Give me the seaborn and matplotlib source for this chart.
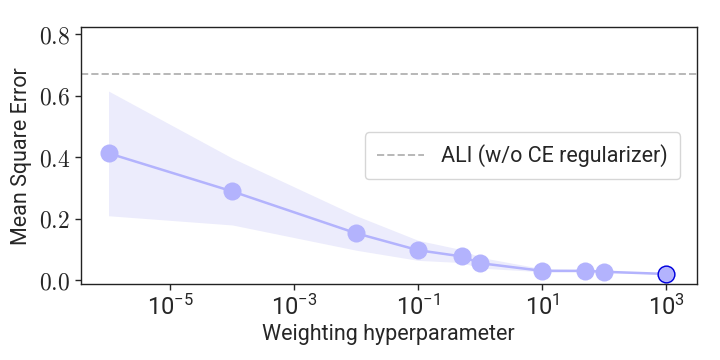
import numpy as np
import pandas as pd
import matplotlib
matplotlib.use("Agg")
import matplotlib.pyplot as plt
import seaborn as sns
from matplotlib.ticker import FuncFormatter, NullLocator

# data
weights = [1e-6, 1e-4, 1e-2, 1e-1, 0.5, 1, 10, 50, 100, 1000]
mse = [0.413, 0.289, 0.153, 0.098, 0.078, 0.056, 0.031, 0.031, 0.028, 0.021]
mse_upper = [0.615, 0.397, 0.21, 0.13, 0.10, 0.075, 0.038, 0.034, 0.030, 0.022]
mse_lower = [0.21, 0.18, 0.098, 0.065, 0.058, 0.04, 0.028, 0.028, 0.026, 0.020]
ali_baseline = 0.67

sns.set_style("ticks")
plt.rcParams["font.family"] = ["Roboto", "DejaVu Sans"]
plt.rcParams["mathtext.fontset"] = "cm"

df = pd.DataFrame({"w": weights, "mse": mse})

fig, ax = plt.subplots(figsize=(7.2, 3.6), dpi=100)
fig.subplots_adjust(left=0.112, right=0.968, top=0.925, bottom=0.21)

pt_color = "#b3b3fd"
ax.fill_between(weights, mse_lower, mse_upper, color="#ececfc", linewidth=0)
sns.lineplot(data=df, x="w", y="mse", ax=ax, color=pt_color, linewidth=1.8,
             marker="o", markersize=13, markeredgewidth=0, markerfacecolor=pt_color)
# highlight last point
ax.plot(weights[-1], mse[-1], "o", markersize=12, markerfacecolor=pt_color,
        markeredgecolor="#0000dd", markeredgewidth=1.0)
ax.axhline(ali_baseline, color="#b8b8b8", linestyle="--", linewidth=1.4,
           label="ALI (w/o CE regularizer)")

ax.set_xscale("log")
ax.set_xlim(10 ** -6.45, 10 ** 3.5)
ax.set_ylim(-0.013, 0.823)
ax.set_xticks([1e-5, 1e-3, 1e-1, 1e1, 1e3])
ax.xaxis.set_minor_locator(NullLocator())
ax.set_yticks([0.0, 0.2, 0.4, 0.6, 0.8])
ax.yaxis.set_major_formatter(FuncFormatter(lambda v, p: r"$%.1f$" % v))
ax.tick_params(labelsize=17, length=4, width=1)

ax.set_xlabel("Weighting hyperparameter", fontsize=15.5, labelpad=3)
ax.set_ylabel("Mean Square Error", fontsize=15.5, labelpad=5)
for s in ax.spines.values():
    s.set_linewidth(1.0)
    s.set_color("#222222")

leg = ax.legend(loc="center right", fontsize=15.5, frameon=True, handlelength=2.2,
                borderpad=0.55, bbox_to_anchor=(0.99, 0.5))
leg.get_frame().set_edgecolor("#cccccc")

fig.savefig("out.png", dpi=100)
